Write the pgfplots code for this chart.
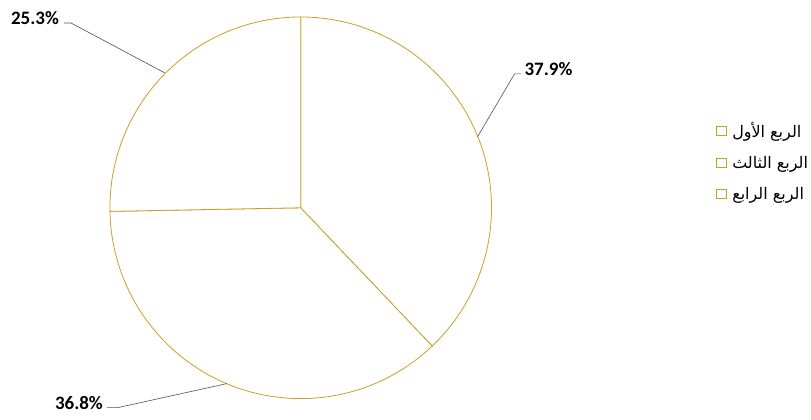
\documentclass[border=0pt]{standalone}
\usepackage{pgfplots}
\pgfplotsset{compat=1.18}
\usepackage{pgfplotstable}
\usepackage{fontspec}
\setmainfont{Carlito}
\newfontfamily\arabicfont[Script=Arabic]{DejaVu Sans}
\TeXXeTstate=1
\definecolor{gold}{RGB}{201,160,40}
\definecolor{leader}{RGB}{80,80,80}
\pgfplotstableread{
slice value
Q1 37.9
Q3 36.8
Q4 25.3
}\piedata
\begin{document}
\begin{tikzpicture}
\pgfplotstablegetelem{0}{value}\of\piedata \let\va\pgfplotsretval
\pgfplotstablegetelem{1}{value}\of\piedata \let\vb\pgfplotsretval
\pgfplotstablegetelem{2}{value}\of\piedata \let\vc\pgfplotsretval
\pgfmathsetmacro{\aA}{90-3.6*\va}
\pgfmathsetmacro{\aB}{\aA-3.6*\vb}
\pgfmathsetmacro{\aC}{\aB-3.6*\vc}
\begin{axis}[
  width=811pt, height=410pt, scale only axis,
  xmin=0, xmax=811, ymin=0, ymax=410, y dir=reverse,
  hide axis, clip=false,
  legend style={at={(axis cs:716,119)}, anchor=north west, draw=none, fill=none,
    font=\arabicfont\fontsize{16}{19}\selectfont, row sep=13.5pt, inner sep=1pt,
    /tikz/every odd column/.append style={column sep=3pt}},
  legend cell align=left,
  legend image code/.code={\draw[gold, fill=white, line width=0.8pt] (0pt,-4.5pt) rectangle (10pt,4.5pt);},
]
\path (axis cs:0,0) rectangle (axis cs:811,410);
\draw[gold, fill=white, line width=0.8pt] (axis cs:301,208) -- ++(90:191pt) arc[start angle=90, end angle=\aA, radius=191pt] -- cycle;
\draw[gold, fill=white, line width=0.8pt] (axis cs:301,208) -- ++(\aA:191pt) arc[start angle=\aA, end angle=\aB, radius=191pt] -- cycle;
\draw[gold, fill=white, line width=0.8pt] (axis cs:301,208) -- ++(\aB:191pt) arc[start angle=\aB, end angle=\aC, radius=191pt] -- cycle;
% leader lines
\draw[leader, line width=0.6pt] (axis cs:64,23) -- (axis cs:71,23) -- (axis cs:165,73);
\draw[leader, line width=0.6pt] (axis cs:522,74) -- (axis cs:515,74) -- (axis cs:478,137);
\draw[leader, line width=0.6pt] (axis cs:107,408) -- (axis cs:118,408) -- (axis cs:227,384);
% labels
\node[font=\bfseries\fontsize{19}{22}\selectfont, anchor=center] at (axis cs:35,18) {\vc\%};
\node[font=\bfseries\fontsize{19}{22}\selectfont, anchor=center] at (axis cs:549,69) {\va\%};
\node[font=\bfseries\fontsize{19}{22}\selectfont, anchor=center] at (axis cs:79,403) {\vb\%};
\addlegendimage{}
\addlegendentry{\beginR الربع الأول\endR}
\addlegendimage{}
\addlegendentry{\beginR الربع الثالث\endR}
\addlegendimage{}
\addlegendentry{\beginR الربع الرابع\endR}
\end{axis}
\end{tikzpicture}
\end{document}
